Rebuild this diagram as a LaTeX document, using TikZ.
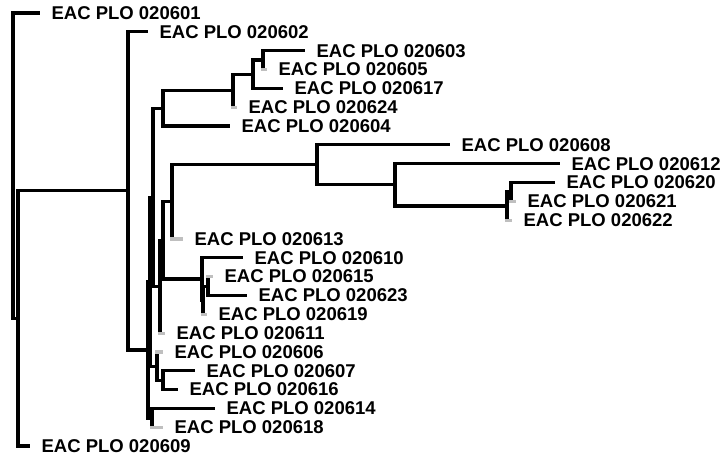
\documentclass[tikz,border=0pt]{standalone}
\usepackage{fontspec}
\setmainfont{Liberation Sans}
\usetikzlibrary{positioning}

\begin{document}
\begin{tikzpicture}[x=1pt,y=-1pt,line width=3.2pt,
  branch/.style={draw=black,line join=miter},
  tick/.style={draw=black!25},
  taxon/.style={font=\bfseries\fontsize{18.5}{18.5}\selectfont,inner sep=0pt}]
\useasboundingbox (0,0) rectangle (725,457);
% inner nodes of the tree
\coordinate (root) at (13,165.7);
\coordinate (nA) at (18,318.5);
\coordinate (nB) at (128,190.9);
\coordinate (nC) at (148,349.9);
\coordinate (nD) at (150,281.9);
\coordinate (nV) at (153,197.6);
\coordinate (p4) at (163,108.4);
\coordinate (p3) at (233,90.7);
\coordinate (p2) at (253,74.2);
\coordinate (p1) at (263,60.1);
\coordinate (nW) at (160,286.8);
\coordinate (r2) at (163,240.5);
\coordinate (r1) at (172,201.9);
\coordinate (q4) at (317,164.8);
\coordinate (q3) at (395,184.9);
\coordinate (q2) at (507,206.0);
\coordinate (q1) at (511,191.9);
\coordinate (s3) at (202,279.0);
\coordinate (s2) at (203,300.2);
\coordinate (s1) at (208,286.1);
\coordinate (t2) at (157,366.1);
\coordinate (t1) at (163,380.2);
\coordinate (u1) at (152,417.9);
% leaves: row / end of branch / sample number
\foreach \k/\ex/\id in {1/40/01,2/148/02,3/305/03,4/267/05,5/283/17,6/237/24,
  7/230/04,8/450/08,9/560/12,10/555/20,11/516/21,12/512/22,13/183/13,
  14/243/10,15/213/15,16/247/23,17/207/19,18/165/11,19/163/06,20/195/07,
  21/178/16,22/215/14,23/163/18,24/30/09}{
  \coordinate (e\id) at (\ex,{13+(\k-1)*18.83});
  \node[taxon,right=10pt of e\id] (l\id) {EAC PLO 0206\id};
}
% branches
\draw[branch] (root) |- (e01);
\draw[branch] (root) |- (nA);
\draw[branch] (nA) |- (nB);
\draw[branch] (nA) |- (e09);
\draw[branch] (nB) |- (e02);
\draw[branch] (nB) |- (nC);
\draw[branch] (nC) |- (nD);
\draw[branch] (nC) |- (u1);
\draw[branch] (nD) |- (nV);
\draw[branch] (nD) |- (t2);
\draw[branch] (nV) |- (p4);
\draw[branch] (nV) |- (nW);
\draw[branch] (p4) |- (p3);
\draw[branch] (p4) |- (e04);
\draw[branch] (p3) |- (p2);
\draw[branch] (p3) -- (p3 |- e24);
\draw[branch] (p2) |- (p1);
\draw[branch] (p2) |- (e17);
\draw[branch] (p1) |- (e03);
\draw[branch] (p1) -- (p1 |- e05);
\draw[branch] (nW) |- (r2);
\draw[branch] (nW) -- (nW |- e11);
\draw[branch] (r2) |- (r1);
\draw[branch] (r2) |- (s3);
\draw[branch] (r1) |- (q4);
\draw[branch] (r1) -- (r1 |- e13);
\draw[branch] (q4) |- (e08);
\draw[branch] (q4) |- (q3);
\draw[branch] (q3) |- (e12);
\draw[branch] (q3) |- (q2);
\draw[branch] (q2) |- (q1);
\draw[branch] (q2) -- (q2 |- e22);
\draw[branch] (q1) |- (e20);
\draw[branch] (q1) -- (q1 |- e21);
\draw[branch] (s3) |- (e10);
\draw[branch] (s3) |- (s2);
\draw[branch] (s2) |- (s1);
\draw[branch] (s2) -- (s2 |- e19);
\draw[branch] (s1) -- (s1 |- e15);
\draw[branch] (s1) |- (e23);
\draw[branch] (t2) -- (t2 |- e06);
\draw[branch] (t2) |- (t1);
\draw[branch] (t1) |- (e07);
\draw[branch] (t1) |- (e16);
\draw[branch] (u1) |- (e14);
\draw[branch] (u1) -- (u1 |- e18);
% zero-length tips in grey
\draw[tick] ([xshift=-1.6pt]p1 |- e05) -- (e05);
\draw[tick] ([xshift=-1.6pt]p3 |- e24) -- (e24);
\draw[tick] ([xshift=-1.6pt]q1 |- e21) -- (e21);
\draw[tick] ([xshift=-1.6pt]q2 |- e22) -- (e22);
\draw[tick] ([xshift=-1.6pt]r1 |- e13) -- (e13);
\draw[tick] ([xshift=-1.6pt]s1 |- e15) -- (e15);
\draw[tick] ([xshift=-1.6pt]s2 |- e19) -- (e19);
\draw[tick] ([xshift=-1.6pt]nW |- e11) -- (e11);
\draw[tick] ([xshift=-1.6pt]t2 |- e06) -- (e06);
\draw[tick] ([xshift=-1.6pt]u1 |- e18) -- (e18);
\end{tikzpicture}
\end{document}
